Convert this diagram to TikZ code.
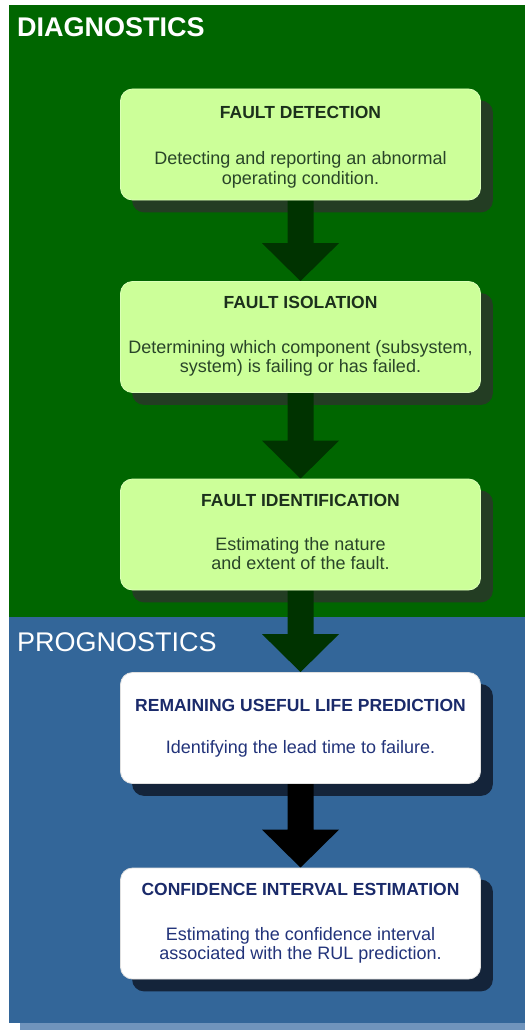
\documentclass[tikz,border=0pt]{standalone}
\usepackage{fontspec}
\setmainfont{Liberation Sans}
\usetikzlibrary{calc}
\pgfdeclarelayer{bg}\pgfdeclarelayer{shad}\pgfdeclarelayer{arr}
\pgfsetlayers{bg,shad,arr,main}
\definecolor{diaggreen}{HTML}{006600}
\definecolor{progblue}{HTML}{336699}
\definecolor{panelshadow}{HTML}{7094BC}
\definecolor{boxgreen}{HTML}{CCFF99}
\definecolor{gshadow}{HTML}{233D23}
\definecolor{bshadow}{HTML}{14243A}
\definecolor{arrgreen}{HTML}{003300}
\definecolor{gtitle}{HTML}{1C301C}
\definecolor{gbody}{HTML}{294529}
\definecolor{ntitle}{HTML}{1A2A6A}
\definecolor{nbody}{HTML}{22337A}
\newcommand\flowarrow[3]{%
  \fill[#3] ($(#1.south)+(-13,0)$) -- ($(#2.north)+(-13,-38)$) -- ($(#2.north)+(-38.5,-38)$)
    -- (#2.north) -- ($(#2.north)+(38.5,-38)$) -- ($(#2.north)+(13,-38)$)
    -- ($(#1.south)+(13,0)$) -- cycle;}
\newcommand\boxshadow[2]{%
  \fill[#2, rounded corners=12pt] ($(#1.north west)+(12,12)$) rectangle ($(#1.south east)+(12,12)$);}
\begin{document}
\begin{tikzpicture}[x=1pt,y=-1pt,
  flowbox/.style={rectangle, rounded corners=12pt, minimum width=360pt, minimum height=111pt, inner sep=0pt, line width=0.8pt},
  greenbox/.style={flowbox, fill=boxgreen, draw=boxgreen!70!white},
  whitebox/.style={flowbox, fill=white, draw=black!12},
  ttl/.style={anchor=base, inner sep=0pt, font=\fontsize{17.5}{20}\selectfont\bfseries},
  bdy/.style={anchor=base, inner sep=0pt, font=\fontsize{18}{20}\selectfont},
  sectitle/.style={anchor=base west, inner sep=0pt, text=white, font=\fontsize{27}{30}\selectfont}]
\useasboundingbox (0,0) rectangle (525,1030);
% panels
\begin{pgfonlayer}{bg}
\fill[white] (0,0) rectangle (525,1030);
\fill[panelshadow] (20,1023) rectangle (525,1030);
\fill[diaggreen] (9,5) rectangle (525,617);
\fill[progblue] (9,617) rectangle (525,1023);
\end{pgfonlayer}
\node[sectitle, font=\fontsize{27}{30}\selectfont\bfseries] (diag) at (17,37) {DIAGNOSTICS};
\node[sectitle] (prog) at (17,651) {PROGNOSTICS};
% boxes
\node[greenbox] (b1) at (300.5,144.5) {};
\node[greenbox] (b2) at (300.5,337) {};
\node[greenbox] (b3) at (300.5,534.5) {};
\node[whitebox] (b4) at (300.5,728) {};
\node[whitebox] (b5) at (300.5,923.5) {};
% shadows
\begin{pgfonlayer}{shad}
\boxshadow{b1}{gshadow}
\boxshadow{b2}{gshadow}
\boxshadow{b3}{gshadow}
\boxshadow{b4}{bshadow}
\boxshadow{b5}{bshadow}
\end{pgfonlayer}
% arrows
\begin{pgfonlayer}{arr}
\flowarrow{b1}{b2}{arrgreen}
\flowarrow{b2}{b3}{arrgreen}
\flowarrow{b3}{b4}{arrgreen}
\flowarrow{b4}{b5}{black}
\end{pgfonlayer}
% texts
\node[ttl, text=gtitle] (t1) at ($(b1.north)+(0,30)$) {FAULT DETECTION};
\node[bdy, text=gbody] (d1a) at ($(b1.north)+(0,76)$) {Detecting and reporting an abnormal};
\node[bdy, text=gbody] (d1b) at ($(b1.north)+(0,96)$) {operating condition.};
\node[ttl, text=gtitle] (t2) at ($(b2.north)+(0,27.6)$) {FAULT ISOLATION};
\node[bdy, text=gbody] (d2a) at ($(b2.north)+(0,72.6)$) {Determining which component (subsystem,};
\node[bdy, text=gbody] (d2b) at ($(b2.north)+(0,91)$) {system) is failing or has failed.};
\node[ttl, text=gtitle] (t3) at ($(b3.north)+(0,28.3)$) {FAULT IDENTIFICATION};
\node[bdy, text=gbody] (d3a) at ($(b3.north)+(0,72)$) {Estimating the nature};
\node[bdy, text=gbody] (d3b) at ($(b3.north)+(0,91)$) {and extent of the fault.};
\node[ttl, text=ntitle] (t4) at ($(b4.north)+(0,39)$) {REMAINING USEFUL LIFE PREDICTION};
\node[bdy, text=nbody] (d4a) at ($(b4.north)+(0,81.6)$) {Identifying the lead time to failure.};
\node[ttl, text=ntitle] (t5) at ($(b5.north)+(0,27.5)$) {CONFIDENCE INTERVAL ESTIMATION};
\node[bdy, text=nbody] (d5a) at ($(b5.north)+(0,72.4)$) {Estimating the confidence interval};
\node[bdy, text=nbody] (d5b) at ($(b5.north)+(0,92)$) {associated with the RUL prediction.};
\end{tikzpicture}
\end{document}
